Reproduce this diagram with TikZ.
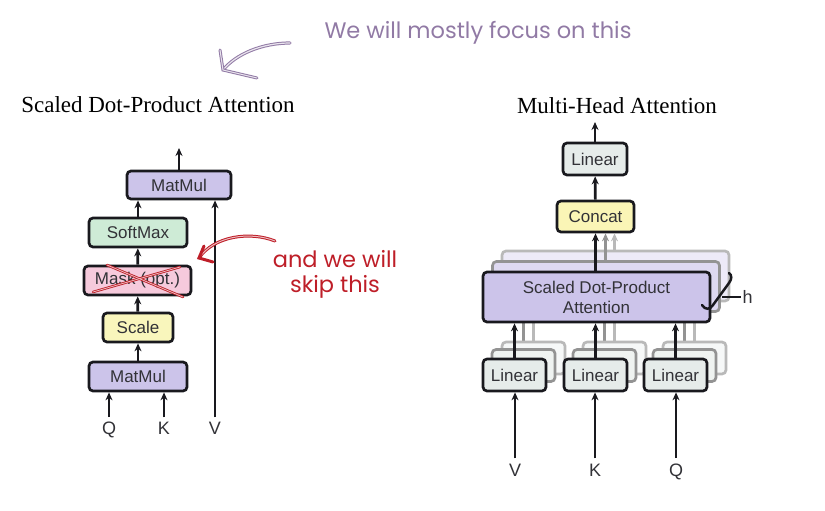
\documentclass[tikz,border=0pt]{standalone}
\usepackage{fontspec}
\setmainfont{Liberation Serif}
\newfontfamily\boxfont{Liberation Sans}
\newfontfamily\handfont{Poppins}
\usetikzlibrary{arrows.meta}
\definecolor{edgecol}{RGB}{25,25,30}
\definecolor{txtcol}{RGB}{50,50,55}
\definecolor{mmcol}{RGB}{204,196,234}
\definecolor{smcol}{RGB}{206,235,214}
\definecolor{maskcol}{RGB}{246,202,220}
\definecolor{scalecol}{RGB}{249,246,188}
\definecolor{lincol}{RGB}{230,236,234}
\definecolor{catcol}{RGB}{250,245,182}
\definecolor{notepurple}{RGB}{145,122,165}
\definecolor{notered}{RGB}{190,30,40}

\begin{document}
\begin{tikzpicture}[x=1pt,y=-1pt,
  blk/.style={draw=edgecol,line width=2.7pt,rounded corners=4pt,inner sep=0pt,
    font=\boxfont\fontsize{17}{20}\selectfont,text=txtcol,align=center},
  ghost/.style={blk,draw=gray!85,fill=#1!65},
  faint/.style={blk,draw=gray!55,fill=#1!35},
  arr/.style={-{Stealth[length=8pt,width=7pt]},line width=2.7pt,draw=edgecol},
  lbl/.style={font=\boxfont\fontsize{18}{20}\selectfont,text=txtcol,inner sep=1pt,anchor=base},
  title/.style={font=\fontsize{23}{26}\selectfont},
  hand/.style={font=\handfont\fontsize{22.5}{25}\selectfont,align=center}]
\useasboundingbox (0,0) rectangle (825,511);

% left: scaled dot-product attention
\node[title] (ltitle) at (158,105) {Scaled Dot-Product Attention};
\node[blk,fill=mmcol,minimum width=98pt,minimum height=29pt] (mm1) at (138,376.5) {MatMul};
\node[blk,fill=scalecol,minimum width=70pt,minimum height=29pt] (scale) at (138,327.5) {Scale};
\node[blk,fill=maskcol,minimum width=107pt,minimum height=29pt] (mask) at (137.5,280.5) {Mask (opt.)};
\node[blk,fill=smcol,minimum width=98pt,minimum height=29pt] (softmax) at (138,232.5) {SoftMax};
\node[blk,fill=mmcol,minimum width=104pt,minimum height=28pt] (mm2) at (179,185) {MatMul};
\node[lbl] (q) at (109,434) {Q};
\node[lbl] (k) at (164,434) {K};
\node[lbl] (v) at (215,434) {V};
\coordinate (lout) at (179,148);

\draw[arr,shorten <=3pt] (q.north) -- (q.north |- mm1.south);
\draw[arr,shorten <=3pt] (k.north) -- (k.north |- mm1.south);
\draw[arr,shorten <=3pt] (v.north) -- (v.north |- mm2.south);
\draw[arr] (mm1) -- (scale);
\draw[arr] (scale) -- (mask);
\draw[arr] (mask) -- (softmax);
\draw[arr] (softmax.north) -- (softmax.north |- mm2.south);
\draw[arr] (mm2.north) -- (lout);

% right: multi-head attention
\node[title] (rtitle) at (617,106) {Multi-Head Attention};
\node[faint=mmcol,minimum width=227pt,minimum height=50pt] (sdpa3) at (615.5,276) {};
\node[ghost=mmcol,minimum width=227pt,minimum height=50pt] (sdpa2) at (606,286.5) {};
\foreach \n/\x in {a/514.5,b/595.5,c/675.5}{
  \draw[line width=2.5pt,gray!55] (\x+19,342) -- (\x+19,312);
  \draw[line width=2.5pt,gray!85] (\x+9,349) -- (\x+9,312);
  \node[faint=lincol,minimum width=63pt,minimum height=32pt] (lin\n3) at (\x+19,358) {};
  \node[ghost=lincol,minimum width=63pt,minimum height=32pt] (lin\n2) at (\x+9,365.5) {};
}
\node[blk,fill=mmcol,minimum width=227pt,minimum height=50pt] (sdpa) at (596.5,297) {Scaled Dot-Product\\Attention};
\node[blk,fill=lincol,minimum width=63pt,minimum height=32pt] (lina) at (514.5,375) {Linear};
\node[blk,fill=lincol,minimum width=63pt,minimum height=32pt] (linb) at (595.5,375) {Linear};
\node[blk,fill=lincol,minimum width=63pt,minimum height=32pt] (linc) at (675.5,375) {Linear};
\node[blk,fill=catcol,minimum width=77pt,minimum height=31pt] (concat) at (595.5,216.5) {Concat};
\node[blk,fill=lincol,minimum width=64pt,minimum height=32pt] (lintop) at (595,159) {Linear};
\node[lbl] (rv) at (515,476) {V};
\node[lbl] (rk) at (595,476) {K};
\node[lbl] (rq) at (676,476) {Q};
\coordinate (rout) at (595,122);

\draw[arr,shorten <=4pt] (rv.north) -- (rv.north |- lina.south);
\draw[arr,shorten <=4pt] (rk.north) -- (rk.north |- linb.south);
\draw[arr,shorten <=4pt] (rq.north) -- (rq.north |- linc.south);
\draw[arr] (lina.north) -- (lina.north |- sdpa.south);
\draw[arr] (linb.north) -- (linb.north |- sdpa.south);
\draw[arr] (linc.north) -- (linc.north |- sdpa.south);
\draw[arr,draw=gray!55] ([xshift=19pt]concat.south |- sdpa3.north) -- ([xshift=19pt]concat.south);
\draw[arr,draw=gray!85] ([xshift=10pt]concat.south |- sdpa2.north) -- ([xshift=10pt]concat.south);
\draw[arr] (concat.south |- sdpa.north) -- (concat.south);
\draw[arr] (concat) -- (lintop);
\draw[arr] (lintop.north) -- (rout);

% h brace
\draw[line width=2.5pt,edgecol,line cap=round] (702,305) .. controls (705,310) and (710,310) .. (713,305)
  -- (729,283) .. controls (732,279) and (732,275) .. (729,273);
\draw[line width=1.4pt,edgecol] (722,297) -- (741,297) node[lbl,anchor=west] (h) {h};

% notes
\node[hand,text=notepurple] (note1) at (478,33) {We will mostly focus on this};
\draw[notepurple,line width=3.2pt,line cap=round] (290,43) .. controls (262,43) and (236,54) .. (223,70);
\draw[white!80!notepurple,line width=1.2pt,line cap=round] (290,43) .. controls (262,43) and (236,54) .. (223,70);
\draw[notepurple,line width=3pt,line cap=round] (220,50) -- (223,70) -- (257,78);
\draw[white!80!notepurple,line width=1pt,line cap=round] (220,50) -- (223,70) -- (257,78);

\node[hand,text=notered] (note2) at (335,274) {and we will\\skip this};
\draw[notered,line width=3pt,line cap=round] (275,241) .. controls (250,231) and (214,236) .. (199,258);
\draw[white!70!notered,line width=1pt,line cap=round] (275,241) .. controls (250,231) and (214,236) .. (199,258);
\draw[notered,line width=3pt,line cap=round] (204,246) -- (199,258) -- (213,262);
\draw[notered,line width=2.5pt,line cap=round] (93,292) -- (180,267);
\draw[notered,line width=2.5pt,line cap=round] (107,265) -- (183,297);
\draw[white!70!notered,line width=0.8pt,line cap=round] (93,292) -- (180,267);
\draw[white!70!notered,line width=0.8pt,line cap=round] (107,265) -- (183,297);
\end{tikzpicture}
\end{document}
